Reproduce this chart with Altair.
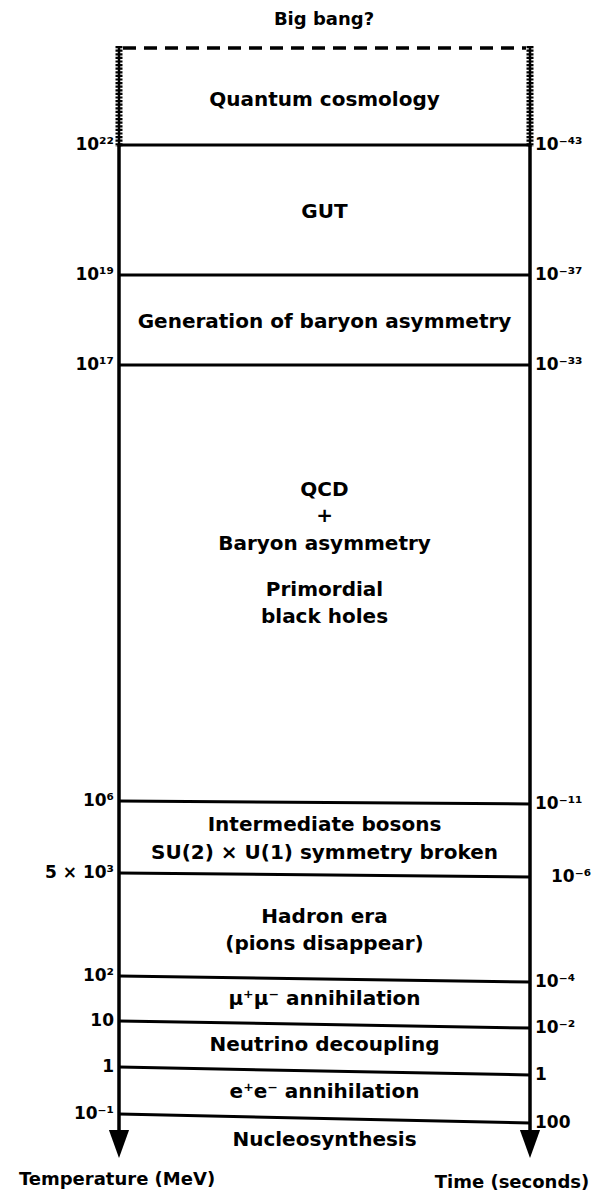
import altair as alt
import pandas as pd

# ---- data ----
temp_labels = ["10²²", "10¹⁹", "10¹⁷", "10⁶", "5 × 10³", "10²", "10", "1", "10⁻¹"]
time_labels = ["10⁻⁴³", "10⁻³⁷", "10⁻³³", "10⁻¹¹", "10⁻⁶", "10⁻⁴", "10⁻²", "1", "100"]
# vertical position of each boundary (diagram depth units) on the temperature / time side
temp_pos = [145, 275, 365, 801, 873, 976, 1021, 1067, 1114]
time_pos = [145, 275, 365, 804, 877, 982, 1028, 1075, 1123]
time_label_shift = [0, 0, 0, 0, 16, 0, 0, 0, 0]

era_text = [
    "Quantum cosmology", "GUT", "Generation of baryon asymmetry",
    "QCD", "+", "Baryon asymmetry", "Primordial", "black holes",
    "Intermediate bosons", "SU(2) × U(1) symmetry broken",
    "Hadron era", "(pions disappear)",
    "μ⁺μ⁻  annihilation", "Neutrino decoupling", "e⁺e⁻  annihilation",
    "Nucleosynthesis",
]
era_pos = [100, 212, 322, 490, 516, 544, 590, 617, 825, 853, 917, 944, 999, 1045, 1092, 1140]

title_text = "Big bang?"
axis_titles = ["Temperature (MeV)", "Time (seconds)"]

# ---- layout ----
W, H = 585, 1183
XL, XR = 119, 530
FONT = "DejaVu Sans"

xs = alt.Scale(domain=[8, 8 + W])
ys = alt.Scale(domain=[8, 8 + H], reverse=True)
X = lambda f: alt.X(f, type="quantitative", scale=xs, axis=None)
Y = lambda f: alt.Y(f, type="quantitative", scale=ys, axis=None)

bounds = pd.DataFrame({
    "x": [XL] * len(temp_pos), "x2": [XR] * len(temp_pos),
    "y": temp_pos, "y2": time_pos,
    "tl": temp_labels, "tr": time_labels,
    "xr": [XR + s for s in time_label_shift],
})

lines = alt.Chart(bounds).mark_rule(color="black", strokeWidth=3).encode(
    x=X("x"), x2="x2", y=Y("y"), y2="y2")

left_lab = alt.Chart(bounds).mark_text(
    align="right", baseline="middle", dx=-5, font=FONT, fontWeight="bold",
    fontSize=17, color="black").encode(x=X("x"), y=Y("y"), text="tl:N")

right_lab = alt.Chart(bounds).mark_text(
    align="left", baseline="middle", dx=5, font=FONT, fontWeight="bold",
    fontSize=17, color="black").encode(x=X("xr"), y=Y("y2"), text="tr:N")

# vertical axes
axes_df = pd.DataFrame({"x": [XL, XR], "y": [145, 145], "y2": [1140, 1140]})
axes = alt.Chart(axes_df).mark_rule(color="black", strokeWidth=3.5).encode(
    x=X("x"), y=Y("y"), y2="y2")

# wavy (uncertain) segments above Planck time
wavy_df = pd.DataFrame({"x": [XL, XR], "y": [46, 46], "y2": [147, 147]})
wavy_core = alt.Chart(wavy_df).mark_rule(color="black", strokeWidth=2.5).encode(
    x=X("x"), y=Y("y"), y2="y2")
wavy_coil = alt.Chart(wavy_df).mark_rule(
    color="black", strokeWidth=7, strokeDash=[2.2, 1.4]).encode(
    x=X("x"), y=Y("y"), y2="y2")

top_df = pd.DataFrame({"x": [XL + 4], "x2": [XR - 4], "y": [48]})
top = alt.Chart(top_df).mark_rule(
    color="black", strokeWidth=3.5, strokeDash=[13, 8]).encode(
    x=X("x"), x2="x2", y=Y("y"))

arrow_df = pd.DataFrame({"x": [XL, XR], "y": [1144, 1144]})
arrows = alt.Chart(arrow_df).mark_point(
    shape="M -0.72 -1 L 0.72 -1 L 0 1 Z", filled=True, color="black",
    opacity=1, size=784).encode(x=X("x"), y=Y("y"))

era_df = pd.DataFrame({"t": era_text, "y": era_pos, "x": [(XL + XR) / 2] * len(era_text)})
eras = alt.Chart(era_df).mark_text(
    align="center", baseline="middle", font=FONT, fontWeight="bold",
    fontSize=20, color="black").encode(x=X("x"), y=Y("y"), text="t:N")

extra_df = pd.DataFrame({
    "t": [title_text] + axis_titles,
    "x": [324, 117, 512],
    "y": [20, 1180, 1183],
})
extras = alt.Chart(extra_df).mark_text(
    align="center", baseline="middle", font=FONT, fontWeight="bold",
    fontSize=18, color="black").encode(x=X("x"), y=Y("y"), text="t:N")

chart = alt.layer(
    wavy_core, wavy_coil, top, axes, lines, arrows,
    left_lab, right_lab, eras, extras,
).properties(
    width=W, height=H, padding=0, autosize=alt.AutoSizeParams(type="none"),
    background="white",
).configure_view(stroke=None)

chart.save("out.html", embed_options={"renderer": "svg", "actions": False})
